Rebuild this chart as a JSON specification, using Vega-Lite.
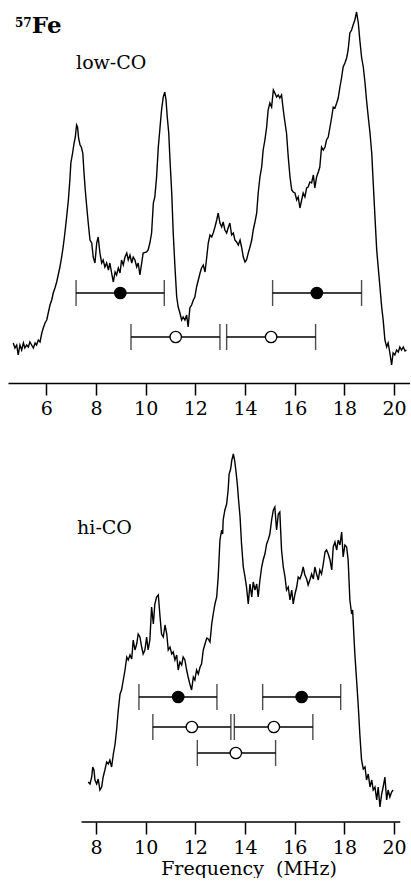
{
  "$schema": "https://vega.github.io/schema/vega-lite/v6.json",
  "padding": {"left": 8, "top": 0, "right": 0, "bottom": 0},
  "background": "white",
  "bounds": "flush",
  "spacing": 40,
  "config": {
    "view": {"stroke": null},
    "axis": {"grid": false, "labelFont": "DejaVu Serif", "labelFontSize": 19, "labelColor": "black", "tickColor": "black", "tickWidth": 1.5, "tickSize": 12, "labelPadding": 4, "domainColor": "black", "domainWidth": 1.5, "titleFont": "DejaVu Serif", "titleFontSize": 19, "titleFontWeight": "normal", "titleColor": "black", "labelFlush": false, "labelOverlap": false}
  },
  "datasets": {
    "lowco": [
      {"f":4.67,"i":40},{"f":4.74,"i":35},{"f":4.81,"i":38},{"f":4.87,"i":28},{"f":4.94,"i":38},{"f":5.01,"i":33},{"f":5.08,"i":40},{"f":5.14,"i":35},{"f":5.21,"i":38},{"f":5.28,"i":36},{"f":5.34,"i":41},{"f":5.41,"i":38},{"f":5.48,"i":35},{"f":5.55,"i":40},{"f":5.61,"i":38},{"f":5.68,"i":43},{"f":5.75,"i":41},{"f":5.82,"i":50},{"f":5.88,"i":55},{"f":5.95,"i":60},{"f":6.02,"i":63},{"f":6.08,"i":70},{"f":6.15,"i":78},{"f":6.22,"i":83},{"f":6.28,"i":90},{"f":6.35,"i":95},{"f":6.42,"i":101},{"f":6.48,"i":108},{"f":6.55,"i":116},{"f":6.62,"i":126},{"f":6.68,"i":136},{"f":6.75,"i":150},{"f":6.82,"i":166},{"f":6.89,"i":183},{"f":6.95,"i":203},{"f":6.99,"i":220},{"f":7.06,"i":230},{"f":7.12,"i":240},{"f":7.17,"i":246},{"f":7.22,"i":258},{"f":7.26,"i":256},{"f":7.30,"i":245},{"f":7.36,"i":238},{"f":7.41,"i":236},{"f":7.47,"i":230},{"f":7.52,"i":210},{"f":7.57,"i":193},{"f":7.63,"i":176},{"f":7.69,"i":160},{"f":7.76,"i":143},{"f":7.83,"i":140},{"f":7.89,"i":126},{"f":7.96,"i":120},{"f":8.03,"i":140},{"f":8.09,"i":146},{"f":8.16,"i":130},{"f":8.23,"i":120},{"f":8.29,"i":123},{"f":8.36,"i":116},{"f":8.43,"i":120},{"f":8.50,"i":113},{"f":8.56,"i":120},{"f":8.63,"i":110},{"f":8.70,"i":101},{"f":8.77,"i":111},{"f":8.83,"i":108},{"f":8.90,"i":115},{"f":8.97,"i":110},{"f":9.03,"i":123},{"f":9.10,"i":118},{"f":9.17,"i":126},{"f":9.24,"i":130},{"f":9.30,"i":123},{"f":9.37,"i":128},{"f":9.44,"i":120},{"f":9.50,"i":126},{"f":9.57,"i":123},{"f":9.64,"i":116},{"f":9.70,"i":120},{"f":9.77,"i":108},{"f":9.90,"i":130},{"f":10.04,"i":131},{"f":10.10,"i":133},{"f":10.17,"i":140},{"f":10.24,"i":150},{"f":10.31,"i":180},{"f":10.37,"i":186},{"f":10.44,"i":206},{"f":10.51,"i":236},{"f":10.58,"i":256},{"f":10.64,"i":273},{"f":10.71,"i":286},{"f":10.77,"i":291},{"f":10.82,"i":283},{"f":10.87,"i":266},{"f":10.93,"i":250},{"f":10.98,"i":223},{"f":11.05,"i":190},{"f":11.11,"i":150},{"f":11.18,"i":116},{"f":11.25,"i":86},{"f":11.31,"i":76},{"f":11.38,"i":70},{"f":11.45,"i":63},{"f":11.51,"i":66},{"f":11.58,"i":63},{"f":11.65,"i":68},{"f":11.71,"i":56},{"f":11.78,"i":75},{"f":11.85,"i":78},{"f":11.92,"i":83},{"f":11.98,"i":86},{"f":12.05,"i":96},{"f":12.12,"i":103},{"f":12.19,"i":110},{"f":12.25,"i":115},{"f":12.32,"i":118},{"f":12.39,"i":111},{"f":12.46,"i":126},{"f":12.52,"i":140},{"f":12.59,"i":148},{"f":12.66,"i":146},{"f":12.72,"i":150},{"f":12.79,"i":156},{"f":12.86,"i":163},{"f":12.92,"i":170},{"f":12.99,"i":160},{"f":13.06,"i":156},{"f":13.12,"i":161},{"f":13.19,"i":153},{"f":13.26,"i":150},{"f":13.32,"i":155},{"f":13.39,"i":160},{"f":13.46,"i":148},{"f":13.53,"i":150},{"f":13.59,"i":143},{"f":13.66,"i":141},{"f":13.73,"i":138},{"f":13.80,"i":143},{"f":13.86,"i":136},{"f":13.93,"i":126},{"f":14.00,"i":121},{"f":14.06,"i":123},{"f":14.13,"i":130},{"f":14.20,"i":136},{"f":14.27,"i":143},{"f":14.33,"i":153},{"f":14.40,"i":161},{"f":14.47,"i":170},{"f":14.53,"i":190},{"f":14.60,"i":206},{"f":14.67,"i":216},{"f":14.73,"i":233},{"f":14.80,"i":243},{"f":14.87,"i":256},{"f":14.93,"i":273},{"f":15.00,"i":280},{"f":15.07,"i":276},{"f":15.14,"i":293},{"f":15.20,"i":290},{"f":15.27,"i":286},{"f":15.34,"i":288},{"f":15.40,"i":285},{"f":15.47,"i":288},{"f":15.54,"i":273},{"f":15.61,"i":260},{"f":15.67,"i":250},{"f":15.74,"i":226},{"f":15.81,"i":206},{"f":15.88,"i":193},{"f":15.94,"i":191},{"f":16.01,"i":190},{"f":16.08,"i":183},{"f":16.14,"i":186},{"f":16.21,"i":175},{"f":16.28,"i":183},{"f":16.34,"i":190},{"f":16.41,"i":186},{"f":16.48,"i":195},{"f":16.54,"i":196},{"f":16.61,"i":201},{"f":16.68,"i":200},{"f":16.75,"i":208},{"f":16.81,"i":195},{"f":16.88,"i":206},{"f":16.95,"i":211},{"f":17.01,"i":216},{"f":17.08,"i":236},{"f":17.15,"i":233},{"f":17.22,"i":236},{"f":17.28,"i":243},{"f":17.35,"i":246},{"f":17.42,"i":256},{"f":17.49,"i":266},{"f":17.55,"i":276},{"f":17.62,"i":275},{"f":17.69,"i":280},{"f":17.75,"i":285},{"f":17.82,"i":296},{"f":17.89,"i":306},{"f":17.95,"i":316},{"f":18.02,"i":320},{"f":18.09,"i":325},{"f":18.15,"i":333},{"f":18.22,"i":350},{"f":18.29,"i":353},{"f":18.35,"i":358},{"f":18.42,"i":363},{"f":18.49,"i":371},{"f":18.56,"i":360},{"f":18.62,"i":343},{"f":18.69,"i":326},{"f":18.76,"i":316},{"f":18.83,"i":300},{"f":18.89,"i":283},{"f":18.96,"i":266},{"f":19.03,"i":250},{"f":19.10,"i":230},{"f":19.16,"i":200},{"f":19.23,"i":166},{"f":19.30,"i":133},{"f":19.36,"i":116},{"f":19.43,"i":96},{"f":19.50,"i":76},{"f":19.56,"i":63},{"f":19.63,"i":43},{"f":19.70,"i":36},{"f":19.76,"i":40},{"f":19.83,"i":30},{"f":19.90,"i":18},{"f":19.96,"i":30},{"f":20.03,"i":28},{"f":20.10,"i":33},{"f":20.17,"i":31},{"f":20.23,"i":36},{"f":20.30,"i":33},{"f":20.37,"i":36},{"f":20.44,"i":32},{"f":20.50,"i":33}
    ],
    "hico": [
      {"f":7.69,"i":40},{"f":7.76,"i":38},{"f":7.83,"i":45},{"f":7.87,"i":55},{"f":7.92,"i":52},{"f":7.96,"i":42},{"f":8.03,"i":38},{"f":8.09,"i":43},{"f":8.16,"i":32},{"f":8.23,"i":35},{"f":8.29,"i":45},{"f":8.36,"i":52},{"f":8.43,"i":60},{"f":8.50,"i":58},{"f":8.56,"i":62},{"f":8.63,"i":55},{"f":8.70,"i":68},{"f":8.77,"i":78},{"f":8.83,"i":92},{"f":8.90,"i":112},{"f":8.97,"i":128},{"f":9.03,"i":132},{"f":9.10,"i":142},{"f":9.17,"i":152},{"f":9.24,"i":165},{"f":9.30,"i":162},{"f":9.37,"i":167},{"f":9.44,"i":163},{"f":9.50,"i":182},{"f":9.57,"i":172},{"f":9.64,"i":178},{"f":9.70,"i":188},{"f":9.77,"i":185},{"f":9.84,"i":175},{"f":9.90,"i":168},{"f":9.97,"i":172},{"f":10.04,"i":185},{"f":10.10,"i":172},{"f":10.17,"i":182},{"f":10.24,"i":215},{"f":10.31,"i":198},{"f":10.37,"i":218},{"f":10.44,"i":225},{"f":10.51,"i":227},{"f":10.58,"i":205},{"f":10.64,"i":188},{"f":10.71,"i":185},{"f":10.78,"i":197},{"f":10.85,"i":188},{"f":10.91,"i":172},{"f":10.98,"i":175},{"f":11.05,"i":168},{"f":11.11,"i":170},{"f":11.18,"i":162},{"f":11.25,"i":167},{"f":11.31,"i":152},{"f":11.38,"i":160},{"f":11.45,"i":157},{"f":11.51,"i":165},{"f":11.58,"i":162},{"f":11.65,"i":152},{"f":11.71,"i":145},{"f":11.78,"i":138},{"f":11.85,"i":132},{"f":11.92,"i":145},{"f":11.98,"i":142},{"f":12.05,"i":152},{"f":12.12,"i":148},{"f":12.19,"i":155},{"f":12.25,"i":158},{"f":12.32,"i":172},{"f":12.39,"i":178},{"f":12.46,"i":184},{"f":12.52,"i":183},{"f":12.59,"i":180},{"f":12.66,"i":198},{"f":12.72,"i":208},{"f":12.79,"i":218},{"f":12.86,"i":225},{"f":12.92,"i":245},{"f":12.99,"i":282},{"f":13.06,"i":292},{"f":13.10,"i":288},{"f":13.12,"i":302},{"f":13.19,"i":312},{"f":13.26,"i":318},{"f":13.32,"i":332},{"f":13.36,"i":348},{"f":13.42,"i":353},{"f":13.47,"i":362},{"f":13.53,"i":368},{"f":13.58,"i":362},{"f":13.63,"i":352},{"f":13.69,"i":338},{"f":13.74,"i":322},{"f":13.80,"i":305},{"f":13.86,"i":278},{"f":13.93,"i":255},{"f":14.00,"i":245},{"f":14.06,"i":235},{"f":14.13,"i":218},{"f":14.20,"i":238},{"f":14.27,"i":225},{"f":14.33,"i":240},{"f":14.40,"i":232},{"f":14.47,"i":238},{"f":14.53,"i":225},{"f":14.60,"i":242},{"f":14.67,"i":255},{"f":14.73,"i":262},{"f":14.80,"i":268},{"f":14.87,"i":278},{"f":14.93,"i":282},{"f":15.00,"i":288},{"f":15.07,"i":302},{"f":15.14,"i":312},{"f":15.20,"i":315},{"f":15.27,"i":292},{"f":15.34,"i":308},{"f":15.40,"i":310},{"f":15.47,"i":272},{"f":15.54,"i":255},{"f":15.61,"i":245},{"f":15.67,"i":232},{"f":15.74,"i":235},{"f":15.81,"i":222},{"f":15.88,"i":232},{"f":15.94,"i":218},{"f":16.01,"i":228},{"f":16.08,"i":235},{"f":16.14,"i":245},{"f":16.21,"i":243},{"f":16.28,"i":248},{"f":16.34,"i":255},{"f":16.41,"i":247},{"f":16.48,"i":243},{"f":16.54,"i":237},{"f":16.61,"i":242},{"f":16.68,"i":248},{"f":16.75,"i":243},{"f":16.81,"i":255},{"f":16.88,"i":248},{"f":16.95,"i":242},{"f":17.01,"i":252},{"f":17.08,"i":248},{"f":17.15,"i":258},{"f":17.22,"i":270},{"f":17.28,"i":272},{"f":17.35,"i":268},{"f":17.42,"i":262},{"f":17.49,"i":252},{"f":17.55,"i":275},{"f":17.62,"i":280},{"f":17.69,"i":272},{"f":17.75,"i":282},{"f":17.82,"i":277},{"f":17.89,"i":290},{"f":17.95,"i":265},{"f":18.02,"i":277},{"f":18.09,"i":275},{"f":18.15,"i":262},{"f":18.22,"i":222},{"f":18.29,"i":208},{"f":18.33,"i":212},{"f":18.35,"i":202},{"f":18.42,"i":168},{"f":18.49,"i":142},{"f":18.56,"i":115},{"f":18.62,"i":88},{"f":18.69,"i":62},{"f":18.76,"i":53},{"f":18.83,"i":55},{"f":18.89,"i":42},{"f":18.96,"i":48},{"f":19.03,"i":35},{"f":19.10,"i":42},{"f":19.16,"i":32},{"f":19.23,"i":35},{"f":19.30,"i":22},{"f":19.36,"i":35},{"f":19.43,"i":15},{"f":19.50,"i":28},{"f":19.56,"i":35},{"f":19.63,"i":45},{"f":19.70,"i":22},{"f":19.76,"i":32},{"f":19.83,"i":25},{"f":19.90,"i":30},{"f":19.96,"i":32}
    ],
    "barsTop": [
      {"lo":7.20,"hi":10.75,"c":8.98,"y":90,"kind":"filled"},
      {"lo":15.11,"hi":18.69,"c":16.89,"y":90,"kind":"filled"},
      {"lo":9.41,"hi":12.99,"c":11.21,"y":46,"kind":"open"},
      {"lo":13.26,"hi":16.84,"c":15.05,"y":46,"kind":"open"}
    ],
    "barsBot": [
      {"lo":9.73,"hi":12.87,"c":11.31,"y":125,"kind":"filled"},
      {"lo":14.71,"hi":17.85,"c":16.28,"y":125,"kind":"filled"},
      {"lo":10.29,"hi":13.43,"c":11.86,"y":95,"kind":"open"},
      {"lo":13.57,"hi":16.73,"c":15.16,"y":95,"kind":"open"},
      {"lo":12.08,"hi":15.23,"c":13.63,"y":69,"kind":"open"}
    ]
  },
  "vconcat": [
    {
      "width": 402,
      "height": 383,
      "encoding": {
        "x": {"type": "quantitative", "scale": {"domain": [4.46, 20.64], "nice": false, "zero": false}, "axis": {"values": [6, 8, 10, 12, 14, 16, 18, 20], "title": null, "format": "d", "tickSize": 12}},
        "y": {"type": "quantitative", "scale": {"domain": [0, 383], "nice": false, "zero": false}, "axis": null}
      },
      "layer": [
        {
          "data": {"name": "lowco"},
          "mark": {"type": "line", "color": "black", "strokeWidth": 1.4},
          "encoding": {"x": {"field": "f"}, "y": {"field": "i"}}
        },
        {
          "data": {"name": "barsTop"},
          "mark": {"type": "rule", "color": "black", "strokeWidth": 1.4},
          "encoding": {"x": {"field": "lo"}, "x2": {"field": "hi"}, "y": {"field": "y"}}
        },
        {
          "data": {"name": "barsTop"},
          "mark": {"type": "tick", "orient": "vertical", "color": "black", "size": 26, "thickness": 1.4},
          "encoding": {"x": {"field": "lo"}, "y": {"field": "y"}}
        },
        {
          "data": {"name": "barsTop"},
          "mark": {"type": "tick", "orient": "vertical", "color": "black", "size": 26, "thickness": 1.4},
          "encoding": {"x": {"field": "hi"}, "y": {"field": "y"}}
        },
        {
          "data": {"name": "barsTop"},
          "mark": {"type": "point", "shape": "circle", "filled": true, "stroke": "black", "strokeWidth": 1.3, "size": 130, "opacity": 1},
          "encoding": {
            "x": {"field": "c"}, "y": {"field": "y"},
            "fill": {"field": "kind", "type": "nominal", "scale": {"domain": ["filled", "open"], "range": ["black", "white"]}, "legend": null}
          }
        },
        {
          "data": {"values": [{"t": "57", "f": 4.74, "i": 356}]},
          "mark": {"type": "text", "font": "DejaVu Serif", "fontSize": 12, "fontWeight": "bold", "align": "left", "baseline": "alphabetic", "color": "black"},
          "encoding": {"x": {"field": "f"}, "y": {"field": "i"}, "text": {"field": "t"}}
        },
        {
          "data": {"values": [{"t": "Fe", "f": 5.42, "i": 350}]},
          "mark": {"type": "text", "font": "DejaVu Serif", "fontSize": 23, "fontWeight": "bold", "align": "left", "baseline": "alphabetic", "color": "black"},
          "encoding": {"x": {"field": "f"}, "y": {"field": "i"}, "text": {"field": "t"}}
        },
        {
          "data": {"values": [{"t": "low-CO", "f": 7.20, "i": 314}]},
          "mark": {"type": "text", "font": "DejaVu Serif", "fontSize": 19, "align": "left", "baseline": "alphabetic", "color": "black"},
          "encoding": {"x": {"field": "f"}, "y": {"field": "i"}, "text": {"field": "t"}}
        }
      ]
    },
    {
      "width": 402,
      "height": 399,
      "encoding": {
        "x": {"type": "quantitative", "scale": {"domain": [4.46, 20.64], "nice": false, "zero": false}, "axis": {"values": [8, 10, 12, 14, 16, 18, 20], "domain": false, "title": "Frequency\u00a0 (MHz)", "titleX": 240.5, "titlePadding": 2, "format": "d", "tickSize": 12}},
        "y": {"type": "quantitative", "scale": {"domain": [0, 399], "nice": false, "zero": false}, "axis": null}
      },
      "layer": [
        {
          "data": {"name": "hico"},
          "mark": {"type": "line", "color": "black", "strokeWidth": 1.4},
          "encoding": {"x": {"field": "f"}, "y": {"field": "i"}}
        },
        {
          "data": {"values": [{"a": 7.42, "b": 20.25, "z": 0}]},
          "mark": {"type": "rule", "color": "black", "strokeWidth": 1.5},
          "encoding": {"x": {"field": "a"}, "x2": {"field": "b"}, "y": {"field": "z"}}
        },
        {
          "data": {"name": "barsBot"},
          "mark": {"type": "rule", "color": "black", "strokeWidth": 1.4},
          "encoding": {"x": {"field": "lo"}, "x2": {"field": "hi"}, "y": {"field": "y"}}
        },
        {
          "data": {"name": "barsBot"},
          "mark": {"type": "tick", "orient": "vertical", "color": "black", "size": 26, "thickness": 1.4},
          "encoding": {"x": {"field": "lo"}, "y": {"field": "y"}}
        },
        {
          "data": {"name": "barsBot"},
          "mark": {"type": "tick", "orient": "vertical", "color": "black", "size": 26, "thickness": 1.4},
          "encoding": {"x": {"field": "hi"}, "y": {"field": "y"}}
        },
        {
          "data": {"name": "barsBot"},
          "mark": {"type": "point", "shape": "circle", "filled": true, "stroke": "black", "strokeWidth": 1.3, "size": 130, "opacity": 1},
          "encoding": {
            "x": {"field": "c"}, "y": {"field": "y"},
            "fill": {"field": "kind", "type": "nominal", "scale": {"domain": ["filled", "open"], "range": ["black", "white"]}, "legend": null}
          }
        },
        {
          "data": {"values": [{"t": "hi-CO", "f": 7.24, "i": 288}]},
          "mark": {"type": "text", "font": "DejaVu Serif", "fontSize": 19, "align": "left", "baseline": "alphabetic", "color": "black"},
          "encoding": {"x": {"field": "f"}, "y": {"field": "i"}, "text": {"field": "t"}}
        }
      ]
    }
  ]
}
